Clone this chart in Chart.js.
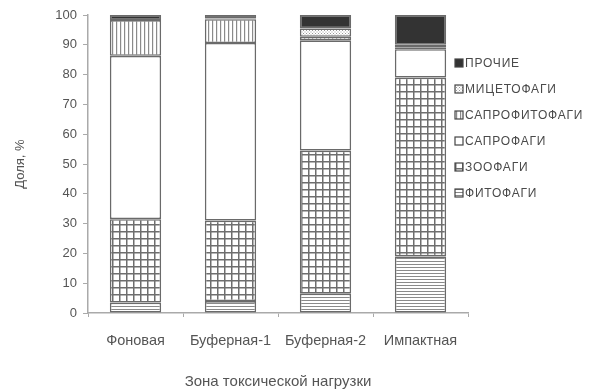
<!DOCTYPE html>
<html>
<head>
<meta charset="utf-8">
<script src="https://cdn.jsdelivr.net/npm/chart.js@4.4.0/dist/chart.umd.min.js"></script>
<style>
  html, body { margin: 0; padding: 0; background: #fff; }
  #wrap { width: 590px; height: 389px; }
</style>
</head>
<body>
<div id="wrap"><canvas id="chart" width="590" height="389"></canvas></div>
<script>
// Зоны токсической нагрузки
const zones = ['Фоновая', 'Буферная-1', 'Буферная-2', 'Импактная'];

// Доли трофических групп, %
const fitofagi = [3.5, 4.0, 6.5, 19.0];
const zoofagi = [28.0, 27.0, 48.0, 60.0];
const saprofagi = [54.8, 59.6, 37.0, 9.5];
const saprofitofagi = [12.0, 8.0, 1.2, 0.5];
const micetofagi = [0.0, 0.2, 2.8, 1.0];
const prochie = [1.7, 1.2, 4.5, 10.0];

const yTicks = [0, 10, 20, 30, 40, 50, 60, 70, 80, 90, 100];

const textColor = '#555';
const edgeColor = '#6a6a6a';
const fontFamily = '"Liberation Sans", Arial, sans-serif';

// штриховки
function makePattern(kind) {
  const c = document.createElement('canvas');
  const ctx = c.getContext('2d');
  if (kind === 'hlines') {
    c.width = 4; c.height = 3;
    ctx.fillStyle = '#fff'; ctx.fillRect(0, 0, 4, 3);
    ctx.fillStyle = '#8a8a8a'; ctx.fillRect(0, 0, 4, 1);
  } else if (kind === 'grid') {
    c.width = 7; c.height = 7;
    ctx.fillStyle = '#fff'; ctx.fillRect(0, 0, 7, 7);
    ctx.fillStyle = '#6e6e6e';
    ctx.fillRect(0, 0, 7, 1.5);
    ctx.fillRect(0, 0, 1.5, 7);
  } else if (kind === 'vlines') {
    c.width = 4; c.height = 4;
    ctx.fillStyle = '#fff'; ctx.fillRect(0, 0, 4, 4);
    ctx.fillStyle = '#8a8a8a'; ctx.fillRect(0, 0, 1.2, 4);
  } else if (kind === 'dots') {
    c.width = 3; c.height = 3;
    ctx.fillStyle = '#fff'; ctx.fillRect(0, 0, 3, 3);
    ctx.fillStyle = '#9a9a9a'; ctx.fillRect(0, 0, 1, 1);
    ctx.fillRect(1.5, 1.5, 1, 1);
  } else if (kind === 'solid') {
    c.width = 2; c.height = 2;
    ctx.fillStyle = '#333'; ctx.fillRect(0, 0, 2, 2);
  } else {
    c.width = 2; c.height = 2;
    ctx.fillStyle = '#fff'; ctx.fillRect(0, 0, 2, 2);
  }
  return ctx.createPattern(c, 'repeat');
}

const series = [
  { label: 'ФИТОФАГИ', data: fitofagi, fill: 'hlines' },
  { label: 'ЗООФАГИ', data: zoofagi, fill: 'grid' },
  { label: 'САПРОФАГИ', data: saprofagi, fill: 'white' },
  { label: 'САПРОФИТОФАГИ', data: saprofitofagi, fill: 'vlines' },
  { label: 'МИЦЕТОФАГИ', data: micetofagi, fill: 'dots' },
  { label: 'ПРОЧИЕ', data: prochie, fill: 'solid' }
];

const datasets = series.map(s => ({
  label: s.label,
  data: s.data,
  backgroundColor: makePattern(s.fill),
  borderColor: edgeColor,
  borderWidth: 1.6,
  borderSkipped: false,
  barPercentage: 0.54,
  categoryPercentage: 1.0
}));

// легенда справа, сверху вниз в обратном порядке
const sideLegend = {
  id: 'sideLegend',
  afterDraw(chart) {
    const ctx = chart.ctx;
    const items = chart.data.datasets.slice().reverse();
    ctx.save();
    ctx.font = '12px ' + fontFamily;
    ctx.letterSpacing = '0.8px';
    ctx.textBaseline = 'middle';
    ctx.textAlign = 'left';
    items.forEach((ds, i) => {
      const y = 63 + i * 26;
      const x = 455;
      ctx.fillStyle = ds.backgroundColor;
      ctx.fillRect(x, y - 4, 8, 8);
      ctx.strokeStyle = '#444';
      ctx.lineWidth = 1.2;
      ctx.strokeRect(x, y - 4, 8, 8);
      ctx.fillStyle = '#4a4a4a';
      ctx.fillText(ds.label, x + 10, y + 0.5);
    });
    ctx.restore();
  }
};

new Chart(document.getElementById('chart').getContext('2d'), {
  type: 'bar',
  data: { labels: zones, datasets },
  plugins: [sideLegend],
  options: {
    responsive: false,
    animation: false,
    layout: { padding: { left: 13, right: 122, top: 15, bottom: 0 } },
    plugins: {
      legend: { display: false },
      tooltip: { enabled: false }
    },
    scales: {
      x: {
        stacked: true,
        grid: { drawOnChartArea: false, drawTicks: true, tickLength: 4, color: '#aaa' },
        border: { color: '#aaa', width: 1.5 },
        ticks: {
          color: textColor,
          font: { family: fontFamily, size: 14.5 },
          padding: 15,
          maxRotation: 0
        },
        title: {
          display: true,
          text: 'Зона токсической нагрузки',
          color: textColor,
          font: { family: fontFamily, size: 15 },
          padding: { top: 0, bottom: -2 }
        },
        afterFit(scale) { scale.height = 76; }
      },
      y: {
        stacked: true,
        min: 0,
        max: 100,
        afterBuildTicks(scale) { scale.ticks = yTicks.map(v => ({ value: v })); },
        grid: { drawOnChartArea: false, drawTicks: true, tickLength: 5, color: '#aaa' },
        border: { color: '#aaa', width: 1.5 },
        ticks: {
          color: textColor,
          font: { family: fontFamily, size: 13 },
          padding: 6
        },
        title: {
          display: true,
          text: 'Доля, %',
          color: textColor,
          font: { family: fontFamily, size: 13 },
          padding: { top: 0, bottom: 0 }
        },
        afterFit(scale) { scale.width = 75; }
      }
    }
  }
});
</script>
</body>
</html>
